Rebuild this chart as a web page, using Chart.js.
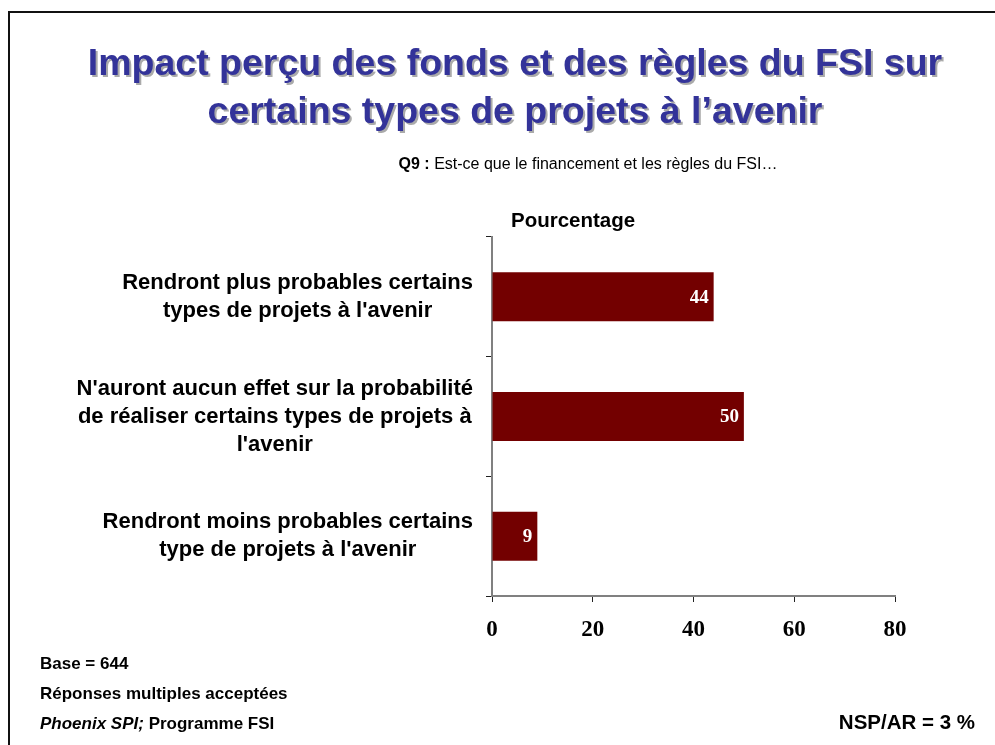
<!DOCTYPE html>
<html>
<head>
<meta charset="utf-8">
<script src="https://cdn.jsdelivr.net/npm/chart.js@4"></script>
<style>
  body { margin: 0; background: #fff; font-family: "Liberation Sans", Arial, sans-serif; }
  #page { position: relative; width: 995px; height: 745px; overflow: hidden; }
  #frame { position: absolute; left: 8px; top: 11px; width: 1000px; height: 800px; border-top: 2px solid #111; border-left: 2px solid #111; }
  canvas { position: absolute; left: 0; top: 0; }
  .txt { position: absolute; white-space: nowrap; }
  #title { left: 0; width: 1030px; top: 38px; text-align: center; font-size: 37.5px; font-weight: bold; line-height: 48px; color: #333399; text-shadow: 2px 2px 0 #aaa; }
  #sub { left: 0; width: 1176px; top: 155px; text-align: center; font-size: 16px; color: #000; }
  #unit { left: 511px; top: 208px; font-size: 20.5px; font-weight: bold; }
  .foot { left: 40px; font-size: 17px; font-weight: bold; }
  #nsp { right: 20px; top: 710px; font-size: 20.5px; font-weight: bold; }
</style>
</head>
<body>
<div id="page">
  <div id="frame"></div>
  <canvas id="chart" width="995" height="745"></canvas>
  <div class="txt" id="title">Impact perçu des fonds et des règles du FSI sur<br>certains types de projets à l’avenir</div>
  <div class="txt" id="sub"><b>Q9 :</b> Est-ce que le financement et les règles du FSI…</div>
  <div class="txt" id="unit">Pourcentage</div>
  <div class="txt foot" style="top:654px">Base = 644</div>
  <div class="txt foot" style="top:684px">Réponses multiples acceptées</div>
  <div class="txt foot" style="top:714px"><i>Phoenix SPI;</i> Programme FSI</div>
  <div class="txt" id="nsp">NSP/AR = 3 %</div>
</div>
<script>
var categories = [
    ['Rendront plus probables certains', "types de projets à l'avenir"],
    ["N'auront aucun effet sur la probabilité", 'de réaliser certains types de projets à', "l'avenir"],
    ['Rendront moins probables certains', "type de projets à l'avenir"]
];
var values = [44, 50, 9];
var xTicks = [0, 20, 40, 60, 80];

var labelFont = 'bold 22px "Liberation Sans", Arial, sans-serif';

// category labels: right-aligned block, lines centred inside it
var catLabels = {
    id: 'catLabels',
    afterDraw: function(chart) {
        var ctx = chart.ctx;
        var yScale = chart.scales.y;
        ctx.save();
        ctx.font = labelFont;
        ctx.fillStyle = '#000';
        ctx.textAlign = 'center';
        ctx.textBaseline = 'middle';
        categories.forEach(function(lines, i) {
            var w = 0;
            lines.forEach(function(l) { w = Math.max(w, ctx.measureText(l).width); });
            var cx = chart.chartArea.left - 19 - w / 2;
            var y0 = yScale.getPixelForValue(i) - (lines.length - 1) * 28 / 2;
            lines.forEach(function(l, k) { ctx.fillText(l, cx, y0 + k * 28); });
        });
        ctx.restore();
    }
};

// value inside the bar end
var barValues = {
    id: 'barValues',
    afterDatasetsDraw: function(chart) {
        var ctx = chart.ctx;
        var meta = chart.getDatasetMeta(0);
        ctx.save();
        ctx.font = 'bold 19px "Liberation Serif", "Times New Roman", serif';
        ctx.fillStyle = '#fff';
        ctx.textAlign = 'right';
        ctx.textBaseline = 'middle';
        meta.data.forEach(function(bar, i) {
            ctx.fillText(values[i], bar.x - 5, bar.y + 1);
        });
        ctx.restore();
    }
};

var ctx = document.getElementById('chart').getContext('2d');
var chart = new Chart(ctx, {
    type: 'bar',
    data: {
        labels: categories,
        datasets: [{
            data: values,
            backgroundColor: '#730000',
            borderWidth: 0,
            barPercentage: 0.41,
            categoryPercentage: 1
        }]
    },
    options: {
        indexAxis: 'y',
        responsive: false,
        animation: false,
        layout: { padding: { left: 0, top: 237, right: 100, bottom: 89 } },
        plugins: { legend: { display: false }, tooltip: { enabled: false } },
        scales: {
            x: {
                min: 0,
                max: 80,
                afterBuildTicks: function(scale) {
                    scale.ticks = xTicks.map(function(v) { return { value: v }; });
                },
                afterFit: function(scale) { scale.height = 60; },
                ticks: {
                    color: '#000',
                    padding: 14,
                    font: { family: '"Liberation Serif", "Times New Roman", serif', size: 23, weight: 'bold' }
                },
                grid: { drawOnChartArea: false, drawTicks: true, tickLength: 6, color: '#222' },
                border: { color: '#808080', width: 2 }
            },
            y: {
                afterFit: function(scale) { scale.width = 492; },
                ticks: { display: false },
                grid: { drawOnChartArea: false, drawTicks: true, tickLength: 6, color: '#222', offset: true },
                border: { color: '#808080', width: 2 }
            }
        }
    },
    plugins: [catLabels, barValues]
});
</script>
</body>
</html>
